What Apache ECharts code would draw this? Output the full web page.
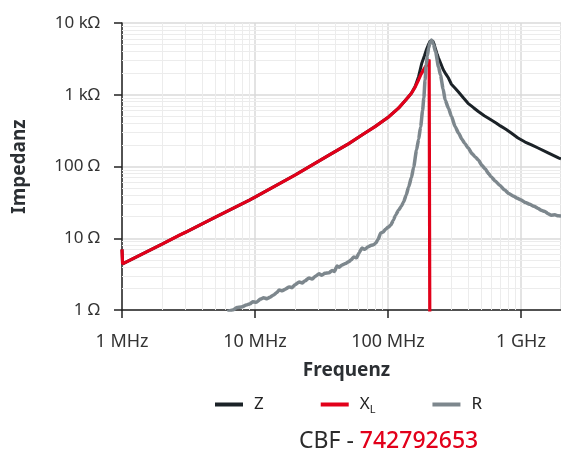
<!DOCTYPE html>
<html>
<head>
<meta charset="utf-8">
<script src="https://cdn.jsdelivr.net/npm/echarts@6/dist/echarts.min.js"></script>
<style>
  html, body { margin: 0; padding: 0; background: #fff; }
  #chart { width: 561px; height: 453px; }
</style>
</head>
<body>
<div id="chart"></div>
<script>
// Impedance curves of the ferrite bead, frequency in MHz, impedance in ohm
const zFreq = [1, 1.01, 2, 2.72, 3.0, 3.1, 5, 9.08, 10, 20, 36, 50, 63.7, 80, 101, 120, 136, 150, 160, 170, 179,
  188, 195, 203, 208, 211, 213, 215, 218, 222, 228, 235, 240, 250, 260, 272, 285, 300, 320, 339, 370, 400, 440, 478,
  530, 598, 650, 700, 770, 845, 950, 1075, 1200, 1345, 1600, 1932, 2000];
const zOhm = [7.0, 4.4, 8.3, 11.1, 12.1, 12.3, 19.5, 34, 37.5, 76, 144, 205, 275, 360, 490, 650, 845, 1050, 1300, 1800, 2700,
  3500, 4300, 5150, 5600, 5780, 5800, 5760, 5550, 5100, 4300, 3600, 3250, 2700, 2250, 1950, 1710, 1400, 1230, 1090, 900, 760, 660, 585,
  510, 445, 405, 368, 330, 293, 250, 219, 200, 181, 155, 131, 128];

const xlFreq = [1, 1.01, 2, 2.72, 3.0, 3.1, 5, 9.08, 10, 20, 36, 50, 63.7, 80, 101, 120, 136, 150, 160, 170, 176,
  182, 188, 195, 200, 204, 207, 207.5];
const xlOhm = [7.0, 4.4, 8.3, 11.1, 12.1, 12.3, 19.5, 34, 37.5, 76, 144, 205, 275, 360, 490, 650, 845, 1050, 1280, 1620, 1884,
  2100, 2330, 2600, 2850, 3100, 3300, 0.01];

const rFreq = [6.2, 6.8, 7.3, 7.9, 8.6, 9.2, 9.6, 10.2, 11.0, 11.6, 12.3, 12.9, 13.8, 14.6, 15.2, 16.0, 16.9,
  18.1, 19.0, 20.0, 21.5, 22.6, 23.8, 25.5, 26.8, 28.5, 30.3, 31.8, 33.5, 36.0, 38.0, 39.5, 41.4, 43.0, 45.1,
  48.0, 50.5, 53.0, 55.4, 58.0, 60.5, 63.7, 67.0, 71.0, 75.0, 78.0, 81.1, 84.0, 88.3, 92.0, 96.0, 100, 105,
  110, 114, 120, 126, 131, 137, 143, 150, 156, 164, 170, 176, 182, 186, 190, 194, 198, 202, 207, 213,
  220, 228, 240, 248, 260, 269, 285, 300, 320, 340, 360, 378, 400, 430, 455, 478, 510, 540, 570, 596,
  640, 690, 754, 810, 880, 940, 1006, 1080, 1160, 1250, 1347, 1420, 1500, 1600, 1690, 1800, 1900, 2000];
const rOhm = [0.95, 1.0, 1.08, 1.1, 1.17, 1.22, 1.3, 1.28, 1.42, 1.48, 1.44, 1.5, 1.62, 1.75, 1.9, 1.85, 1.95,
  2.1, 2.05, 2.25, 2.46, 2.38, 2.55, 2.8, 2.7, 2.95, 3.2, 3.05, 3.25, 3.3, 3.55, 3.45, 4.1, 3.95, 4.25,
  4.45, 4.7, 5.0, 5.5, 5.35, 6.2, 7.3, 7.0, 7.6, 8.0, 8.1, 8.6, 9.6, 11.8, 12.2, 13.4, 14.2, 15.3,
  18.0, 21, 24.5, 28, 32, 40, 52, 70, 98, 170, 240, 356, 600, 900, 1600, 2600, 3500, 4490, 5300, 5800,
  5000, 3950, 2440, 1880, 1200, 845, 650, 500, 359, 290, 240, 210, 182, 150, 135, 123, 103, 92, 80, 72,
  63, 55, 47, 42, 38.5, 36, 34, 31.5, 29.8, 28, 26, 24.5, 23.8, 22, 21, 21.2, 20.6, 20.5];

// Minor grid positions between the decades
const minorFreq = [2, 3, 4, 5, 6, 7, 8, 9, 20, 30, 40, 50, 60, 70, 80, 90, 200, 300, 400, 500, 600, 700, 800, 900];
const minorOhm = [2, 3, 4, 5, 6, 7, 8, 9, 20, 30, 40, 50, 60, 70, 80, 90, 200, 300, 400, 500, 600, 700, 800, 900,
  2000, 3000, 4000, 5000, 6000, 7000, 8000, 9000];

const pairs = (xs, ys) => xs.map((x, i) => [x, ys[i]]);

const FONT = 'Noto Sans';
const DARK = '#1b2227';
const RED = '#e2001a';
const GRAY = '#7d878d';

const isDecade = v => Math.abs(Math.log10(v) - Math.round(Math.log10(v))) < 0.01;

const chart = echarts.init(document.getElementById('chart'), null, { renderer: 'canvas' });

chart.setOption({
  animation: false,
  textStyle: { fontFamily: FONT },
  grid: { left: 122, top: 23, width: 441, height: 287, containLabel: false },
  title: {
    left: 294, top: 425,
    text: '{a|CBF - }{b|742792653}',
    textStyle: {
      fontWeight: 'normal',
      rich: {
        a: { fontFamily: FONT, fontSize: 23, color: '#2b2b2b', fontWeight: 'normal' },
        b: { fontFamily: FONT, fontSize: 23, color: RED, fontWeight: 500 }
      }
    }
  },
  legend: {
    left: 210, top: 391,
    data: ['Z', 'XL', 'R'],
    icon: 'rect',
    itemWidth: 28, itemHeight: 4,
    itemGap: 57,
    formatter: name => name === 'XL' ? '{m|X}{s|L}' : '{m|' + name + '}',
    textStyle: {
      padding: [0, 0, 0, 6],
      rich: {
        m: { fontFamily: FONT, fontSize: 17, color: '#222' },
        s: { fontFamily: FONT, fontSize: 11, color: '#222', padding: [11, 0, 0, 0] }
      }
    }
  },
  xAxis: {
    type: 'log', logBase: 10, min: 1, max: 2000, splitNumber: 4,
    name: 'Frequenz', nameLocation: 'middle', nameGap: 51,
    nameTextStyle: { fontFamily: FONT, fontSize: 19, fontWeight: 'bold', color: '#2b2f33', padding: [0, 0, 0, 10] },
    axisLine: { show: true, onZero: false, lineStyle: { color: '#222', width: 1.5 } },
    axisTick: { show: true, length: 8, lineStyle: { color: '#222', width: 1.5 } },
    axisLabel: {
      margin: 23, fontSize: 18, color: '#333', showMaxLabel: false,
      formatter: v => {
        if (!isDecade(v)) return '';
        const n = Math.round(v);
        return n >= 1000 ? (n / 1000) + ' GHz' : n + ' MHz';
      }
    },
    splitLine: { show: true, lineStyle: { color: '#dadada', width: 1.5 } }
  },
  yAxis: {
    type: 'log', logBase: 10, min: 1, max: 10000, splitNumber: 4,
    name: 'Impedanz', nameLocation: 'middle', nameGap: 93, nameRotate: 90,
    nameTextStyle: { fontFamily: FONT, fontSize: 19, fontWeight: 'bold', color: '#2b2f33' },
    axisLine: { show: true, onZero: false, lineStyle: { color: '#222', width: 1.5 } },
    axisTick: { show: true, length: 8, lineStyle: { color: '#222', width: 1.5 } },
    axisLabel: {
      margin: 22, fontSize: 17, color: '#333',
      formatter: v => {
        if (!isDecade(v)) return '';
        const n = Math.round(v);
        return n >= 1000 ? (n / 1000) + ' kΩ' : n + ' Ω';
      }
    },
    splitLine: { show: true, lineStyle: { color: '#dadada', width: 1.5 } }
  },
  series: [
    {
      name: 'grid', type: 'line', data: [[1, 1]], silent: true, z: 1,
      showSymbol: false, lineStyle: { opacity: 0 },
      markLine: {
        z: 1,
        silent: true, symbol: ['none', 'none'], animation: false,
        label: { show: false },
        lineStyle: { color: '#ececec', width: 1, type: 'solid' },
        emphasis: { disabled: true },
        data: minorFreq.map(f => ({ xAxis: f })).concat(minorOhm.map(o => ({ yAxis: o })))
      }
    },
    {
      name: 'Z', type: 'line', data: pairs(zFreq, zOhm), z: 3,
      showSymbol: false, color: DARK, lineStyle: { color: DARK, width: 3 }
    },
    {
      name: 'XL', type: 'line', data: pairs(xlFreq, xlOhm), z: 4,
      showSymbol: false, color: RED, lineStyle: { color: RED, width: 3.2 }
    },
    {
      name: 'R', type: 'line', data: pairs(rFreq, rOhm), z: 5,
      showSymbol: false, smooth: 0.2, smoothMonotone: 'x',
      color: GRAY, lineStyle: { color: GRAY, width: 3.5 }
    }
  ]
});
</script>
</body>
</html>
